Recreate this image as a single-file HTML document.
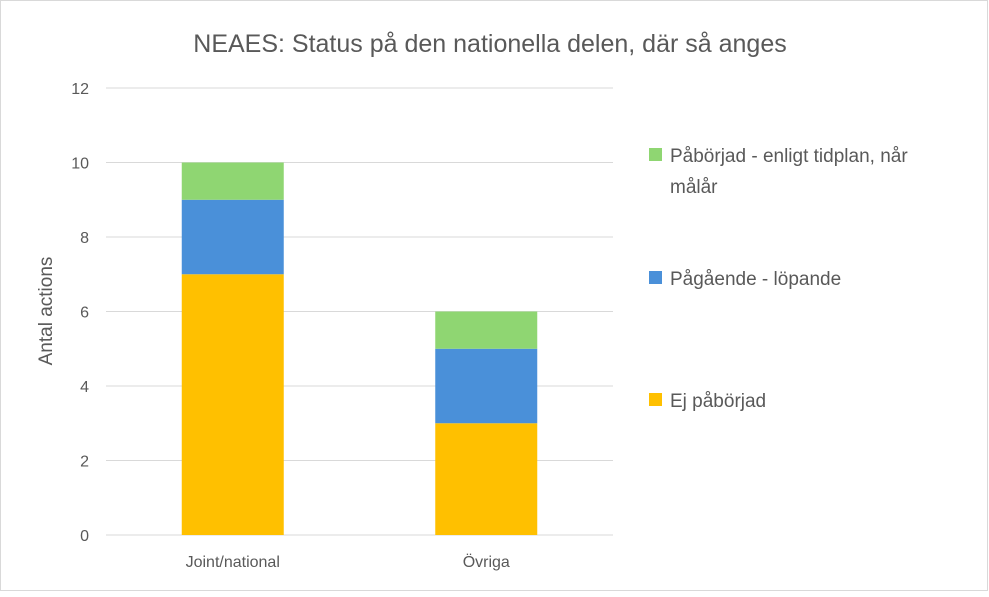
<!DOCTYPE html>
<html><head><meta charset="utf-8"><style>
body{margin:0;background:#fff;font-family:"Liberation Sans",sans-serif}
</style></head><body>
<svg width="989" height="592" xmlns="http://www.w3.org/2000/svg" font-family="Liberation Sans, DejaVu Sans, sans-serif">
<rect x="0.5" y="0.5" width="987" height="590" fill="#fff" stroke="#d9d9d9"/>
<text x="490" y="52" text-anchor="middle" font-size="25" fill="#595959">NEAES: Status på den nationella delen, där så anges</text>
<text transform="translate(52,311) rotate(-90)" text-anchor="middle" font-size="19" fill="#595959">Antal actions</text>
<g id="grid"></g><g id="bars"></g><g id="labels"></g>
<g font-size="19" fill="#595959">
<rect x="649" y="148" width="13" height="13" fill="#8fd672"/>
<text x="670" y="162">Påbörjad - enligt tidplan, når</text>
<text x="670" y="193">målår</text>
<rect x="649" y="271" width="13" height="13" fill="#4a90d9"/>
<text x="670" y="285">Pågående - löpande</text>
<rect x="649" y="393" width="13" height="13" fill="#ffc000"/>
<text x="670" y="407">Ej påbörjad</text>
</g>
</svg>
<script>
const categories=["Joint/national","Övriga"];
const ejPaborjad=[7,3];
const pagaende=[2,2];
const paborjad=[1,1];
const yTicks=[0,2,4,6,8,10,12];
const NS="http://www.w3.org/2000/svg";
const x0=106,x1=613,yBase=535,yTop=88,yMax=12;
const y=v=>yBase-(yBase-yTop)*v/yMax;
const band=(x1-x0)/categories.length;
const bw=102;
function mk(tag,attrs,parent){const e=document.createElementNS(NS,tag);for(const k in attrs)e.setAttribute(k,attrs[k]);document.getElementById(parent).appendChild(e);return e;}
yTicks.forEach(t=>{
 const l=mk("line",{x1:x0,x2:x1,y1:y(t),y2:y(t),stroke:"#d9d9d9","stroke-width":1},"grid");
 
 
 const tx=mk("text",{x:89,y:y(t)+6,"text-anchor":"end","font-size":"16",fill:"#595959"},"labels");
 tx.textContent=t;
 
 
});
const series=[[ejPaborjad,"#ffc000","not-started"],[pagaende,"#4a90d9","ongoing"],[paborjad,"#8fd672","started"]];
categories.forEach((c,i)=>{
 const cx=x0+band*(i+0.5);
 let acc=0;
 series.forEach(([vals,col,nm])=>{
  const v=vals[i];
  const r=mk("rect",{x:cx-bw/2,y:y(acc+v),width:bw,height:y(acc)-y(acc+v),fill:col},"bars");
  
  
  acc+=v;
 });
 const tx=mk("text",{x:cx,y:567,"text-anchor":"middle","font-size":"16",fill:"#595959"},"labels");
 tx.textContent=c;
 
 
});
</script>
</body></html>
